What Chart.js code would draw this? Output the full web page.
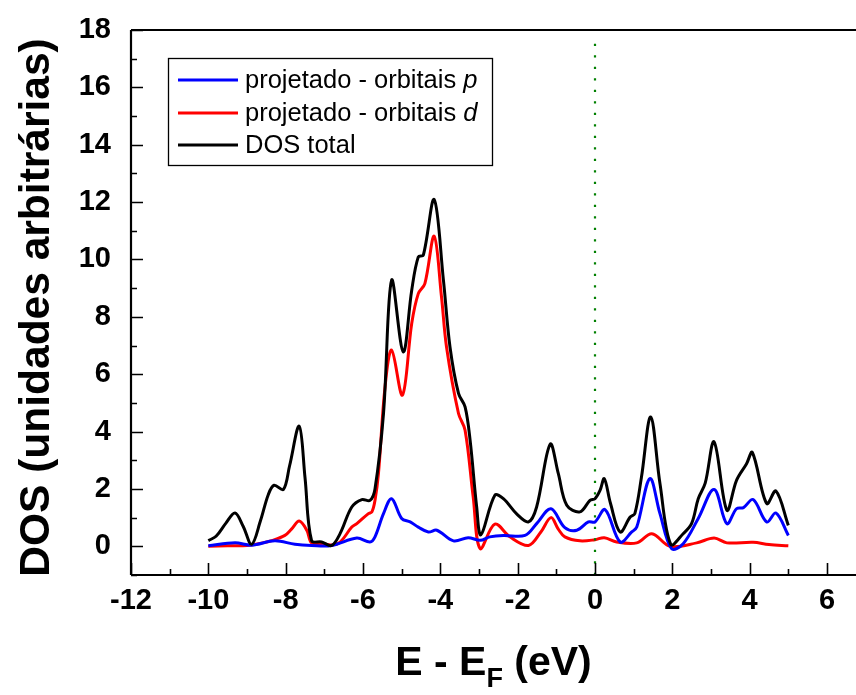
<!DOCTYPE html>
<html>
<head>
<meta charset="utf-8">
<script src="https://cdn.jsdelivr.net/npm/chart.js@4.4.1/dist/chart.umd.min.js"></script>
<style>
  html, body { margin: 0; padding: 0; background: #fff; }
  #wrap { width: 856px; height: 695px; }
</style>
</head>
<body>
<div id="wrap"><canvas id="dosChart"></canvas></div>
<script>
// energies (eV) and DOS values, one pair of arrays per curve
const totalE = [-10.0, -9.8, -9.55, -9.31, -9.1, -8.88, -8.65, -8.45, -8.3, -8.06, -7.9, -7.65, -7.5, -7.33, -7.07, -6.81, -6.59, -6.29, -6.03, -5.82, -5.69, -5.47, -5.26, -4.96, -4.74, -4.57, -4.44, -4.16, -3.92, -3.75, -3.53, -3.36, -3.23, -3.06, -2.95, -2.59, -2.37, -2.02, -1.72, -1.51, -1.16, -0.95, -0.73, -0.39, -0.13, 0.0, 0.13, 0.24, 0.4, 0.65, 0.91, 1.03, 1.2, 1.44, 1.68, 1.96, 2.28, 2.5, 2.67, 2.85, 3.08, 3.41, 3.66, 3.92, 4.07, 4.44, 4.68, 5.0];
const totalDOS = [0.2, 0.35, 0.8, 1.16, 0.7, 0.07, 0.9, 1.8, 2.13, 1.98, 2.8, 4.19, 2.4, 0.2, 0.15, 0.03, 0.45, 1.37, 1.63, 1.6, 2.0, 4.63, 9.28, 6.78, 8.93, 10.09, 10.15, 12.09, 9.28, 6.95, 5.33, 4.86, 3.7, 1.37, 0.4, 1.78, 1.66, 1.12, 0.85, 1.37, 3.56, 2.54, 1.43, 1.2, 1.6, 1.66, 1.95, 2.36, 1.5, 0.5, 1.02, 1.14, 2.4, 4.51, 2.19, 0.07, 0.44, 0.8, 1.66, 2.2, 3.64, 1.26, 2.3, 2.88, 3.27, 1.49, 1.93, 0.73];

const dE = [-10.0, -9.5, -9.0, -8.6, -8.36, -8.02, -7.85, -7.65, -7.45, -7.33, -7.07, -6.81, -6.59, -6.29, -6.16, -5.86, -5.77, -5.69, -5.6, -5.43, -5.26, -4.98, -4.74, -4.57, -4.4, -4.16, -3.97, -3.84, -3.53, -3.36, -3.15, -2.97, -2.59, -2.2, -1.72, -1.4, -1.14, -0.95, -0.78, -0.39, 0.0, 0.24, 0.56, 1.08, 1.47, 1.94, 2.63, 3.08, 3.41, 4.09, 4.5, 5.0];
const dDOS = [0.0, 0.02, 0.03, 0.12, 0.2, 0.38, 0.6, 0.88, 0.55, 0.12, 0.1, 0.05, 0.15, 0.67, 0.79, 1.14, 1.2, 1.6, 2.54, 5.56, 6.84, 5.27, 7.77, 8.81, 9.16, 10.81, 8.7, 6.95, 4.63, 4.05, 1.72, -0.08, 0.77, 0.33, 0.03, 0.5, 1.0, 0.6, 0.33, 0.19, 0.23, 0.3, 0.15, 0.12, 0.44, 0.0, 0.12, 0.29, 0.12, 0.14, 0.06, 0.02];

const pE = [-10.0, -9.31, -8.88, -8.28, -7.76, -7.33, -6.81, -6.16, -5.82, -5.69, -5.47, -5.26, -5.0, -4.78, -4.57, -4.31, -4.09, -3.66, -3.28, -2.97, -2.72, -2.37, -1.81, -1.51, -1.14, -0.78, -0.47, -0.17, 0.0, 0.26, 0.65, 0.95, 1.08, 1.42, 1.68, 1.98, 2.28, 2.67, 3.08, 3.41, 3.66, 3.84, 4.09, 4.44, 4.68, 5.0];
const pDOS = [0.02, 0.12, 0.04, 0.19, 0.07, 0.03, 0.03, 0.29, 0.15, 0.33, 1.14, 1.66, 0.97, 0.85, 0.67, 0.5, 0.56, 0.19, 0.3, 0.21, 0.33, 0.38, 0.38, 0.79, 1.31, 0.65, 0.56, 0.85, 0.85, 1.28, 0.15, 0.5, 0.67, 2.36, 1.14, -0.08, 0.09, 0.97, 1.98, 0.79, 1.31, 1.35, 1.63, 0.85, 1.16, 0.38];

// Fermi level marker
const fermiE = [0, 0];
const fermiY = [-1, 17.7];

const xTicks = [-12, -10, -8, -6, -4, -2, 0, 2, 4, 6];
const yTicks = [0, 2, 4, 6, 8, 10, 12, 14, 16, 18];
const legendText = ["projetado - orbitais ", "projetado - orbitais ", "DOS total"];
const legendItalic = ["p", "d", ""];
const legendColors = ["#0000ff", "#ff0000", "#000000"];

const FONT = '"Liberation Sans", Arial, sans-serif';

function pts(xs, ys) {
    return xs.map((x, i) => ({ x: x, y: ys[i] }));
}

// frame, inward ticks, axis titles and the boxed legend
const decor = {
    id: "decor",
    afterDraw(chart) {
        const ctx = chart.ctx;
        const a = chart.chartArea;
        const xs = chart.scales.x, ys = chart.scales.y;
        ctx.save();
        ctx.strokeStyle = "#000";
        ctx.lineWidth = 2.2;
        ctx.beginPath();
        ctx.moveTo(a.left, a.top); ctx.lineTo(a.right, a.top);
        ctx.moveTo(a.left, a.top); ctx.lineTo(a.left, a.bottom);
        ctx.moveTo(a.left, a.bottom); ctx.lineTo(a.right, a.bottom);
        ctx.stroke();

        ctx.lineWidth = 1.6;
        ctx.beginPath();
        for (let v = -12; v <= 7; v++) {
            const px = Math.round(xs.getPixelForValue(v)) + 0.5;
            if (px > a.right) break;
            const len = v % 2 === 0 ? 12 : 6;
            ctx.moveTo(px, a.bottom); ctx.lineTo(px, a.bottom - len);
        }
        for (let v = -1; v <= 18; v++) {
            const py = Math.round(ys.getPixelForValue(v)) + 0.5;
            const len = v % 2 === 0 ? 12 : 6;
            ctx.moveTo(a.left, py); ctx.lineTo(a.left + len, py);
        }
        ctx.stroke();

        // y title
        ctx.fillStyle = "#000";
        ctx.font = "bold 42.5px " + FONT;
        ctx.textAlign = "center";
        ctx.textBaseline = "middle";
        ctx.save();
        ctx.translate(37, (a.top + a.bottom) / 2 + 5);
        ctx.rotate(-Math.PI / 2);
        ctx.fillText("DOS (unidades arbitrárias)", 0, 0);
        ctx.restore();

        // x title with subscript F
        const big = "bold 41px " + FONT, small = "bold 27px " + FONT;
        ctx.textAlign = "left";
        ctx.textBaseline = "alphabetic";
        ctx.font = big;
        const w1 = ctx.measureText("E - E").width;
        const w3 = ctx.measureText(" (eV)").width;
        ctx.font = small;
        const w2 = ctx.measureText("F").width;
        let x0 = (a.left + a.right) / 2 - (w1 + w2 + w3) / 2;
        const base = 675;
        ctx.font = big;
        ctx.fillText("E - E", x0, base);
        ctx.font = small;
        ctx.fillText("F", x0 + w1, base + 12);
        ctx.font = big;
        ctx.fillText(" (eV)", x0 + w1 + w2, base);

        // legend
        ctx.lineWidth = 1.3;
        ctx.strokeRect(168.5, 58.5, 324, 107);
        const rowY = [80, 113, 145];
        for (let i = 0; i < legendText.length; i++) {
            ctx.strokeStyle = legendColors[i];
            ctx.lineWidth = 2.8;
            ctx.beginPath();
            ctx.moveTo(178, rowY[i]); ctx.lineTo(238, rowY[i]);
            ctx.stroke();
            ctx.fillStyle = "#000";
            ctx.textBaseline = "middle";
            ctx.font = "25.5px " + FONT;
            ctx.fillText(legendText[i], 245, rowY[i] + 1);
            if (legendItalic[i]) {
                const w = ctx.measureText(legendText[i]).width;
                ctx.font = "italic 25.5px " + FONT;
                ctx.fillText(legendItalic[i], 245 + w, rowY[i] + 1);
            }
        }
        ctx.restore();
    }
};

const curve = { pointRadius: 0, borderWidth: 3, tension: 0.35 };

new Chart(document.getElementById("dosChart"), {
    type: "line",
    data: {
        datasets: [
            {
                label: "fermi",
                data: pts(fermiE, fermiY),
                borderColor: "#008000",
                borderWidth: 2.2,
                borderDash: [2.2, 9.3],
                pointRadius: 0,
                order: 0
            },
            Object.assign({ label: "DOS total", data: pts(totalE, totalDOS), borderColor: "#000000", order: 1 }, curve),
            Object.assign({ label: "projetado - orbitais p", data: pts(pE, pDOS), borderColor: "#0000ff", order: 2 }, curve),
            Object.assign({ label: "projetado - orbitais d", data: pts(dE, dDOS), borderColor: "#ff0000", order: 3 }, curve)
        ]
    },
    options: {
        responsive: true,
        maintainAspectRatio: false,
        animation: false,
        layout: { padding: { top: 30, left: 0, right: 0, bottom: 0 } },
        plugins: { legend: { display: false }, tooltip: { enabled: false } },
        scales: {
            x: {
                type: "linear",
                min: -12,
                max: 6.75,
                grid: { display: false },
                border: { display: false },
                afterBuildTicks: (s) => { s.ticks = xTicks.map(v => ({ value: v })); },
                afterFit: (s) => { s.height = 120; },
                ticks: {
                    color: "#000",
                    padding: 1,
                    maxRotation: 0,
                    autoSkip: false,
                    font: { family: FONT, size: 29, weight: "bold" }
                }
            },
            y: {
                type: "linear",
                min: -1,
                max: 18,
                grid: { display: false },
                border: { display: false },
                afterBuildTicks: (s) => { s.ticks = yTicks.map(v => ({ value: v })); },
                afterFit: (s) => { s.width = 131; },
                ticks: {
                    color: "#000",
                    padding: 12,
                    autoSkip: false,
                    font: { family: FONT, size: 29, weight: "bold" }
                }
            }
        }
    },
    plugins: [decor]
});
</script>
</body>
</html>
